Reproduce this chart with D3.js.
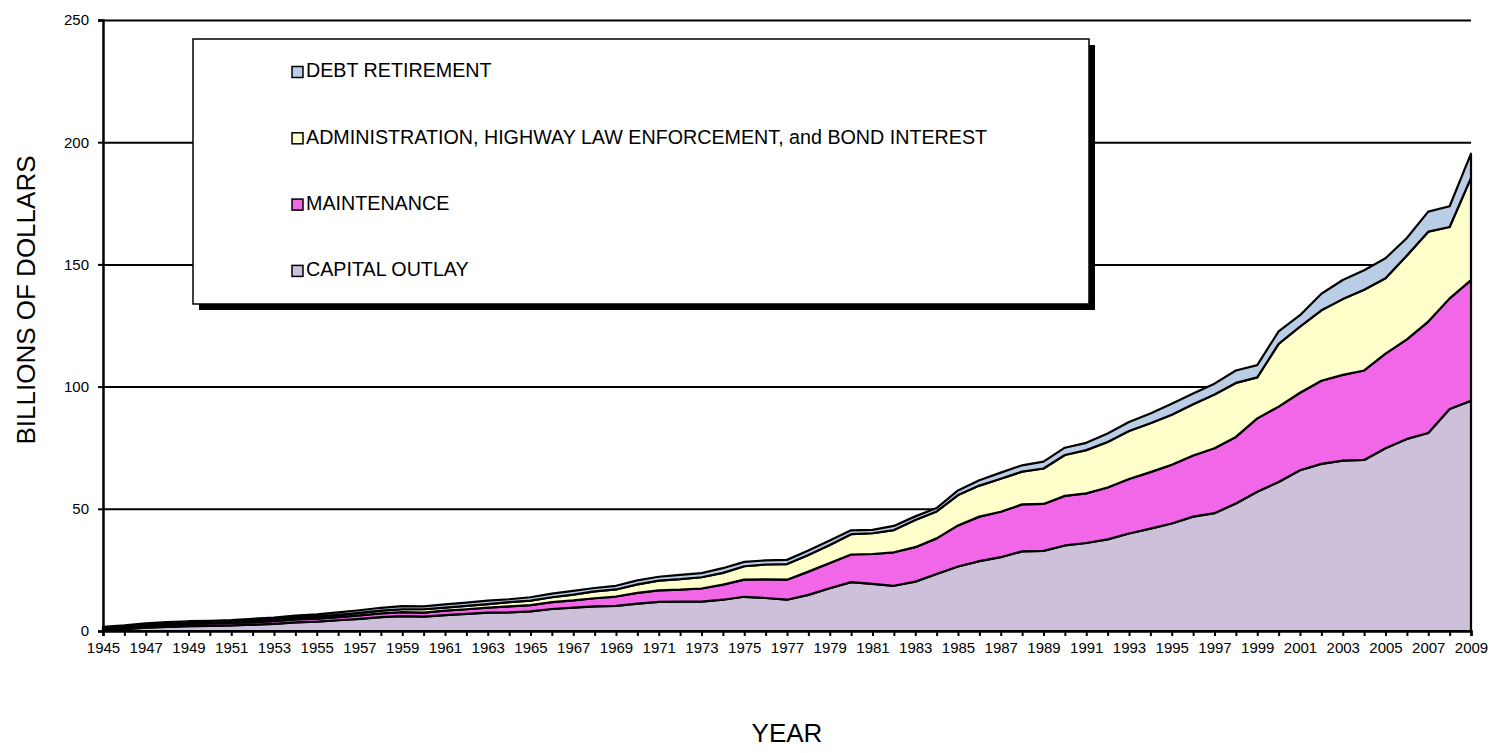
<!DOCTYPE html>
<html>
<head>
<meta charset="utf-8">
<script src="https://cdn.jsdelivr.net/npm/d3@7"></script>
<style>
  html, body { margin: 0; padding: 0; background: #fff; }
  svg { display: block; font-family: "Liberation Sans", Arial, sans-serif; }
</style>
</head>
<body>
<svg id="chart" width="1495" height="753"></svg>
<script>
// ---- DATA (billions of dollars) ----
const years = [1945,1946,1947,1948,1949,1950,1951,1952,1953,1954,1955,1956,1957,1958,1959,
  1960,1961,1962,1963,1964,1965,1966,1967,1968,1969,1970,1971,1972,1973,1974,1975,1976,1977,
  1978,1979,1980,1981,1982,1983,1984,1985,1986,1987,1988,1989,1990,1991,1992,1993,1994,1995,
  1996,1997,1998,1999,2000,2001,2002,2003,2004,2005,2006,2007,2008,2009];

const capitalOutlay = [0.4,0.8,1.4,1.7,2.0,2.1,2.3,2.6,2.9,3.5,3.8,4.4,5.0,5.7,6.1,
  5.9,6.5,7.0,7.5,7.6,8.0,9.0,9.6,10.1,10.3,11.2,11.9,12.0,12.0,12.8,14.0,13.5,12.8,
  14.8,17.5,20.0,19.3,18.5,20.2,23.3,26.4,28.6,30.2,32.6,32.8,35.0,36.0,37.5,39.9,41.9,44.0,
  46.8,48.2,52.2,57.0,61.0,65.8,68.4,69.7,70.0,74.8,78.6,81.0,90.8,94.2];

const maintenance = [0.5,0.7,0.8,0.9,0.9,1.0,1.0,1.0,1.1,1.2,1.3,1.3,1.4,1.5,1.6,
  1.6,1.8,1.9,2.1,2.5,2.6,2.8,2.9,3.3,3.8,4.4,4.7,4.9,5.4,6.2,7.0,7.6,8.2,
  9.5,10.3,11.3,12.2,13.7,14.1,14.6,16.8,18.2,18.6,19.2,19.2,20.3,20.3,21.2,22.3,23.1,24.0,
  25.0,26.6,27.2,30.0,30.8,31.7,34.0,35.1,36.6,38.7,40.7,45.6,45.3,49.4];

const adminEnforcementInterest = [0.4,0.4,0.4,0.4,0.5,0.5,0.6,0.7,0.8,0.8,0.8,0.9,1.0,1.1,1.2,
  1.4,1.3,1.4,1.4,1.7,1.8,2.0,2.4,2.8,2.9,3.5,4.0,4.3,4.6,4.8,5.5,6.1,6.4,
  6.8,7.4,8.3,8.5,9.1,11.1,11.0,12.4,12.7,13.5,13.4,14.5,16.7,17.7,18.6,19.6,20.0,20.5,
  21.0,22.0,22.1,16.8,25.7,27.0,28.8,31.0,33.0,30.8,34.3,36.8,29.2,41.8];

const debtRetirement = [0.4,0.4,0.5,0.6,0.6,0.6,0.6,0.7,0.7,0.8,0.9,1.0,1.1,1.2,1.3,
  1.2,1.3,1.3,1.4,1.2,1.4,1.5,1.5,1.4,1.5,1.6,1.6,1.8,1.7,1.9,1.8,1.7,1.7,
  1.8,1.8,1.6,1.4,1.7,1.5,1.4,1.9,2.2,2.5,2.6,2.8,3.0,3.0,3.5,3.7,4.0,4.5,
  4.4,4.4,5.1,5.0,5.1,4.7,6.8,7.8,8.0,8.2,7.2,8.2,8.5,9.9];

const yTicks = [0, 50, 100, 150, 200, 250];
const seriesKeys = ["capital", "maintenance", "admin", "debt"];
const seriesLabels = {
  capital: "CAPITAL OUTLAY",
  maintenance: "MAINTENANCE",
  admin: "ADMINISTRATION, HIGHWAY LAW ENFORCEMENT, and BOND INTEREST",
  debt: "DEBT RETIREMENT"
};
const seriesColors = {
  capital: "#CCC0DA",
  maintenance: "#F266E8",
  admin: "#FFFFCC",
  debt: "#B9CDE5"
};
const legendOrder = ["debt", "admin", "maintenance", "capital"];

// ---- TABLE ----
const table = years.map((yr, i) => ({
  year: yr,
  capital: capitalOutlay[i],
  maintenance: maintenance[i],
  admin: adminEnforcementInterest[i],
  debt: debtRetirement[i]
}));

// ---- LAYOUT ----
const plotLeft = 103, plotRight = 1471, plotTop = 20, plotBottom = 631;
const svg = d3.select("#chart");

const x = d3.scaleLinear().domain([1945, 2009]).range([plotLeft, plotRight]);
const y = d3.scaleLinear().domain([0, 250]).range([plotBottom, plotTop]);

// gridlines
svg.append("g")
  .attr("transform", `translate(${plotLeft},0)`)
  .call(d3.axisLeft(y).tickValues(yTicks.slice(1)).tickSize(-(plotRight - plotLeft)).tickFormat(""))
  .call(g => g.select(".domain").remove())
  .call(g => g.selectAll(".tick line").attr("stroke", "#000").attr("stroke-width", 2));

// stacked areas
const stacked = d3.stack().keys(seriesKeys)(table);
const area = d3.area()
  .x(d => x(d.data.year))
  .y0(d => y(d[0]))
  .y1(d => y(d[1]));

svg.append("g").selectAll("path")
  .data(stacked)
  .join("path")
  .attr("d", area)
  .attr("fill", d => seriesColors[d.key])
  .attr("stroke", "#000")
  .attr("stroke-width", 2.2)
  .attr("stroke-linejoin", "round");

// y axis
const yAxis = svg.append("g")
  .attr("transform", `translate(${plotLeft},0)`)
  .call(d3.axisLeft(y).tickValues(yTicks).tickSize(5).tickPadding(9));
yAxis.select(".domain").attr("stroke", "#000").attr("stroke-width", 2.5);
yAxis.selectAll(".tick line").attr("stroke", "#000").attr("stroke-width", 2);
yAxis.selectAll(".tick text")
  .attr("font-family", "Liberation Sans, Arial, sans-serif")
  .attr("font-size", 15).attr("fill", "#000");

// x axis
const xAxis = svg.append("g")
  .attr("transform", `translate(0,${plotBottom})`)
  .call(d3.axisBottom(x).tickValues(years).tickSize(5).tickPadding(6)
    .tickFormat(d => ((d - 1945) % 2 === 0 ? String(d) : "")));
xAxis.select(".domain").attr("stroke", "#000").attr("stroke-width", 2.5);
xAxis.selectAll(".tick line").attr("stroke", "#000").attr("stroke-width", 2);
xAxis.selectAll(".tick text")
  .attr("font-family", "Liberation Sans, Arial, sans-serif")
  .attr("font-size", 15).attr("fill", "#000");

// axis titles
svg.append("text")
  .attr("transform", "translate(28,300) rotate(-90)")
  .attr("text-anchor", "middle")
  .attr("dominant-baseline", "middle")
  .attr("font-size", 26)
  .text("BILLIONS OF DOLLARS");

svg.append("text")
  .attr("x", 787).attr("y", 735)
  .attr("text-anchor", "middle")
  .attr("dominant-baseline", "middle")
  .attr("font-size", 26)
  .text("YEAR");

// legend
const lg = svg.append("g");
const lx = 193, ly = 39, lw = 896, lh = 265;
lg.append("rect").attr("x", lx + 6).attr("y", ly + 6).attr("width", lw).attr("height", lh).attr("fill", "#000");
lg.append("rect").attr("x", lx).attr("y", ly).attr("width", lw).attr("height", lh)
  .attr("fill", "#fff").attr("stroke", "#000").attr("stroke-width", 1.5);

legendOrder.forEach((k, i) => {
  const cy = 72 + i * 66.3;
  lg.append("rect").attr("x", 292).attr("y", cy - 5.5).attr("width", 11).attr("height", 11)
    .attr("fill", seriesColors[k]).attr("stroke", "#000").attr("stroke-width", 1.5);
  lg.append("text").attr("x", 306).attr("y", cy).attr("dominant-baseline", "middle")
    .attr("font-size", 19.7).attr("fill", "#000").text(seriesLabels[k]);
});
</script>
</body>
</html>
